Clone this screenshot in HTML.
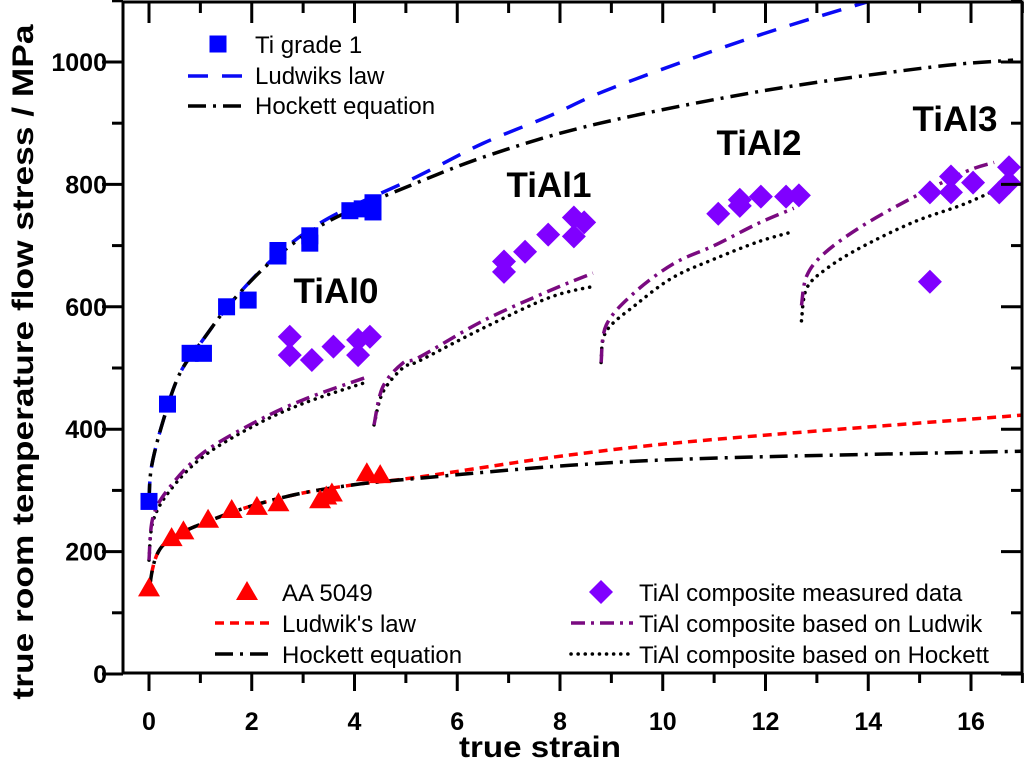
<!DOCTYPE html>
<html><head><meta charset="utf-8">
<style>
html,body{margin:0;padding:0;background:#fff;}
svg{display:block;font-family:"Liberation Sans",Arial,sans-serif;}
.tick{font-weight:bold;font-size:25px;}
.leg{font-size:24px;}
.lab{font-weight:bold;font-size:35px;}
.title{font-weight:bold;font-size:30px;}
</style></head>
<body>
<svg id="chart" width="1024" height="762" viewBox="0 0 1024 762" xmlns="http://www.w3.org/2000/svg">
<defs><clipPath id="clip"><rect x="123" y="2" width="899" height="671"/></clipPath></defs>
<g id="plot" clip-path="url(#clip)"></g>
<g id="axes"></g>
<text class="lab" x="336" y="303" text-anchor="middle">TiAl0</text>
<text class="lab" x="549" y="197" text-anchor="middle">TiAl1</text>
<text class="lab" x="759" y="155" text-anchor="middle">TiAl2</text>
<text class="lab" x="955" y="131" text-anchor="middle">TiAl3</text>
<text class="title" x="540" y="757" text-anchor="middle" textLength="162" lengthAdjust="spacingAndGlyphs">true strain</text>
<text class="title" transform="translate(33,362) rotate(-90)" text-anchor="middle" textLength="675" lengthAdjust="spacingAndGlyphs">true room temperature  flow stress / MPa</text>
<g id="legend"></g>
</svg>
<script>
const xTicks=[0,2,4,6,8,10,12,14,16];
const yTicks=[0,200,400,600,800,1000];
const tiX=[0,0.36,0.8,1.06,1.51,1.93,2.51,2.51,3.13,3.13,3.91,4.15,4.36,4.36];
const tiY=[282,441,524,524,600,611,683,692,704,716,757,760,770,755];
const aaX=[0,0.44,0.67,1.15,1.61,2.1,2.52,3.33,3.45,3.56,4.24,4.5];
const aaY=[140,222,233,252,268,273,279,284,290,295,328,325];
const tialX=[2.74,2.74,3.17,3.59,4.07,4.07,4.3,6.91,6.91,7.32,7.77,8.27,8.27,8.47,11.08,11.5,11.5,11.91,12.4,12.65,15.2,15.2,15.61,15.61,16.04,16.55,16.74,16.74];
const tialY=[551,521,513,535,521,546,551,674,657,690,718,746,715,738,752,775,765,780,780,782,787,641,813,787,803,787,828,803];
const tiLudX=[0,0.05,0.28,0.6,1.05,1.64,2.5,3.5,5.2,6.5,7.8,9.03,11.7,13.97];
const tiLudY=[282,339,415,491,546,611,685,745,812,867,912,958,1039,1098];
const tiHockX=[0,0.05,0.28,0.6,1.05,1.64,2.5,3.5,5.08,6.7,8.78,12.03,15.26,16.82];
const tiHockY=[282,339,415,491,546,611,683,740,798,850,900,954,992,1003];
const aaLudX=[0,0.28,1.38,2.68,3.97,5.27,8.2,11.1,17];
const aaLudY=[140,211,257,290,309,322,358,384,423];
const aaHockX=[0,0.28,1.38,2.68,3.97,5.27,8.2,11.1,17];
const aaHockY=[140,211,257,290,309,320,341,353,364];
const cL0X=[0,0.08,0.41,1.05,2.03,3.0,4.27], cL0Y=[186,257,306,361,410,448,486];
const cL1X=[4.38,4.55,4.94,5.27,6.5,7.79,8.64], cL1Y=[407,469,508,518,577,626,655];
const cL2X=[8.8,8.9,9.42,10.2,11.0,11.85,12.55], cL2Y=[509,570,621,670,700,736,761];
const cL3X=[12.7,12.8,13.14,13.88,14.9,15.9,16.45], cL3Y=[602,650,687,732,780,821,836];
const cH0X=[0,0.08,0.41,1.05,2.03,3.0,4.27], cH0Y=[186,250,300,355,405,442,478];
const cH1X=[4.38,4.55,4.94,5.27,6.5,7.79,8.68], cH1Y=[407,460,500,512,565,615,634];
const cH2X=[8.8,8.9,9.5,10.2,11.0,11.85,12.5], cH2Y=[509,560,605,648,678,706,722];
const cH3X=[12.7,12.8,13.2,13.88,14.9,15.9,16.86], cH3Y=[577,630,663,698,739,769,806];

const NS="http://www.w3.org/2000/svg";
const sx=v=>149+v*51.375;
const sy=v=>674-v*0.612;
function mk(tag,attrs,parent){const e=document.createElementNS(NS,tag);for(const k in attrs)e.setAttribute(k,attrs[k]);parent.appendChild(e);return e;}
function pathD(X,Y){
  const p=X.map((x,i)=>[sx(x),sy(Y[i])]);
  let d="M"+p[0][0]+","+p[0][1];
  for(let i=0;i<p.length-1;i++){
    const p0=p[i-1]||p[i],p1=p[i],p2=p[i+1],p3=p[i+2]||p2;
    const c1=[p1[0]+(p2[0]-p0[0])/6,p1[1]+(p2[1]-p0[1])/6];
    const c2=[p2[0]-(p3[0]-p1[0])/6,p2[1]-(p3[1]-p1[1])/6];
    d+=" C"+c1+" "+c2+" "+p2;
  }
  return d;
}
const plot=document.getElementById('plot');
const axes=document.getElementById('axes');
const legend=document.getElementById('legend');
const styles={
 blue:{stroke:"#0a0af5","stroke-width":3.5,"stroke-dasharray":"20 14",fill:"none"},
 hock:{stroke:"#000","stroke-width":3.5,"stroke-dasharray":"18 7 3 7",fill:"none"},
 red:{stroke:"#ff0000","stroke-width":3.5,"stroke-dasharray":"9 6",fill:"none"},
 purple:{stroke:"#7a0a80","stroke-width":3.5,"stroke-dasharray":"14 6 3 6",fill:"none"},
 dot:{stroke:"#000","stroke-width":3.5,"stroke-dasharray":"0.1 7","stroke-linecap":"round",fill:"none"}
};
function curve(X,Y,st,name){const e=mk('path',Object.assign({d:pathD(X,Y)},styles[st]),plot);

}
curve(aaLudX,aaLudY,'red','aa-ludwik-line');
curve(aaHockX,aaHockY,'hock','aa-hockett-line');
[[cH0X,cH0Y],[cH1X,cH1Y],[cH2X,cH2Y],[cH3X,cH3Y]].forEach((s,i)=>curve(s[0],s[1],'dot','tial-hockett-line-'+i));
[[cL0X,cL0Y],[cL1X,cL1Y],[cL2X,cL2Y],[cL3X,cL3Y]].forEach((s,i)=>curve(s[0],s[1],'purple','tial-ludwik-line-'+i));
curve(tiLudX,tiLudY,'blue','ti-ludwik-line');
curve(tiHockX,tiHockY,'hock','ti-hockett-line');
function square(cx,cy,p){return mk('rect',{x:cx-8.5,y:cy-8.5,width:17,height:17,fill:"#0000ff"},p);}
function tri(cx,cy,p){return mk('polygon',{points:`${cx},${cy-11} ${cx-11},${cy+8} ${cx+11},${cy+8}`,fill:"#ff0000"},p);}
function dia(cx,cy,p){return mk('polygon',{points:`${cx},${cy-12} ${cx+12},${cy} ${cx},${cy+12} ${cx-12},${cy}`,fill:"#8000ff"},p);}
tialX.forEach((x,i)=>{const e=dia(sx(x),sy(tialY[i]),plot);

});
aaX.forEach((x,i)=>{const e=tri(sx(x),sy(aaY[i]),plot);

});
tiX.forEach((x,i)=>{const e=square(sx(x),sy(tiY[i]),plot);

});
const fr=mk('rect',{x:123,y:2,width:899,height:671,fill:"none",stroke:"#000","stroke-width":3},axes);


for(let v=0;v<=17;v++){
  const x=sx(v),maj=v%2===0;
  mk('line',{x1:x,y1:673,x2:x,y2:673+(maj?18:10),stroke:"#000","stroke-width":3},axes);
  mk('line',{x1:x,y1:2,x2:x,y2:2+(maj?21:11),stroke:"#000","stroke-width":3},axes);
}
xTicks.forEach(v=>{const t=mk('text',{x:sx(v),y:730,class:"tick","text-anchor":"middle"},axes);t.textContent=v;

});
for(let v=0;v<=1100;v+=100){
  const y=sy(v),maj=v%200===0;
  mk('line',{x1:123,y1:y,x2:123-(maj?21:11),y2:y,stroke:"#000","stroke-width":3},axes);
  mk('line',{x1:1022,y1:y,x2:1022-(maj?21:11),y2:y,stroke:"#000","stroke-width":3},axes);
}
yTicks.forEach(v=>{const t=mk('text',{x:107,y:sy(v)+9,class:"tick","text-anchor":"end"},axes);t.textContent=v;

});
function legText(x,y,s,name){const t=mk('text',{x:x,y:y,class:"leg"},legend);t.textContent=s;

}
square(218,44,legend); legText(255,53,"Ti grade 1",'legend-ti-grade1');
mk('line',Object.assign({x1:188,y1:76,x2:247,y2:76},styles.blue),legend); legText(255,84,"Ludwiks law",'legend-ti-ludwik');
mk('line',Object.assign({x1:188,y1:106,x2:247,y2:106},styles.hock),legend); legText(255,114,"Hockett equation",'legend-ti-hockett');
tri(247,592,legend); legText(282,601,"AA 5049",'legend-aa5049');
mk('line',Object.assign({x1:215,y1:623,x2:274,y2:623},styles.red),legend); legText(282,632,"Ludwik's law",'legend-aa-ludwik');
mk('line',Object.assign({x1:215,y1:654,x2:274,y2:654},styles.hock),legend); legText(282,663,"Hockett equation",'legend-aa-hockett');
dia(601,592,legend); legText(639,601,"TiAl composite measured data",'legend-tial-measured');
mk('line',Object.assign({x1:571,y1:623,x2:633,y2:623},styles.purple),legend); legText(639,632,"TiAl composite based on Ludwik",'legend-tial-ludwik');
mk('line',Object.assign({x1:571,y1:654,x2:633,y2:654},styles.dot),legend); legText(639,663,"TiAl composite based on Hockett",'legend-tial-hockett');
</script>
</body></html>
